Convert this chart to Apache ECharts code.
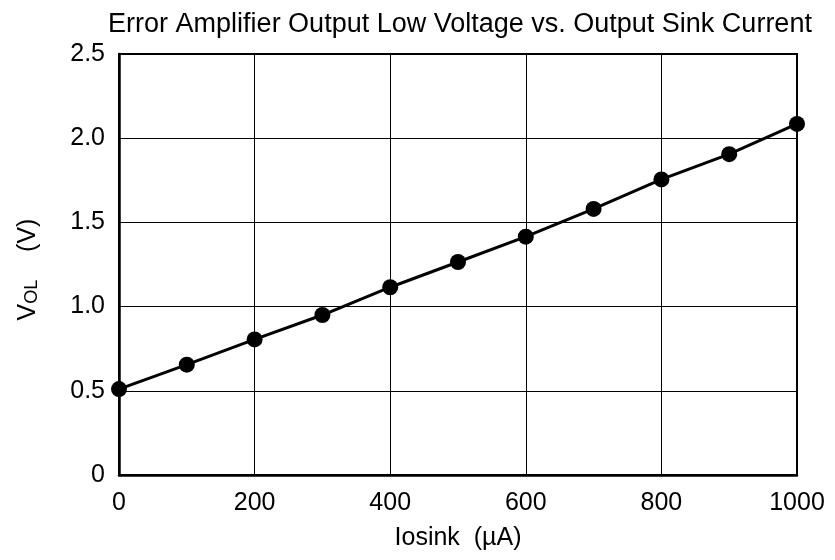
<!DOCTYPE html>
<html>
<head>
<meta charset="utf-8">
<script src="https://cdn.jsdelivr.net/npm/echarts@6/dist/echarts.min.js"></script>
<style>
html,body{margin:0;padding:0;background:#fff;}
#chart{width:835px;height:560px;}
</style>
</head>
<body>
<div id="chart"></div>
<script>
const titleText = 'Error Amplifier Output Low Voltage vs. Output Sink Current';
const sinkCurrent = [0, 100, 200, 300, 400, 500, 600, 700, 800, 900, 1000];
const vol = [0.51, 0.655, 0.805, 0.95, 1.115, 1.265, 1.415, 1.58, 1.755, 1.905, 2.085];
const xTicks = [0, 200, 400, 600, 800, 1000];
const yTicks = ['0', '0.5', '1.0', '1.5', '2.0', '2.5'];

const FONT = '"Liberation Sans", Arial, Helvetica, sans-serif';
const chart = echarts.init(document.getElementById('chart'), null, {renderer: 'canvas'});
const points = sinkCurrent.map((x, i) => [x, vol[i]]);

chart.setOption({
  backgroundColor: '#fff',
  animation: false,
  title: {
    text: titleText,
    left: 455, top: 6, textAlign: 'center',
    textStyle: {fontFamily: FONT, fontSize: 27, fontWeight: 'normal', color: '#000'}
  },
  grid: {left: 119, right: 38, top: 54, bottom: 85, show: true, borderColor: '#000', borderWidth: 2},
  xAxis: {
    type: 'value', min: 0, max: 1000, interval: 200,
    name: 'Iosink  (µA)', nameLocation: 'middle', nameGap: 51,
    nameTextStyle: {fontFamily: FONT, fontSize: 25, color: '#000'},
    axisLine: {show: true, lineStyle: {color: '#000', width: 2.5}},
    axisTick: {show: false},
    axisLabel: {fontFamily: FONT, fontSize: 25, color: '#000', margin: 16,
      formatter: v => String(xTicks[xTicks.indexOf(v)] ?? v)},
    splitLine: {show: true, lineStyle: {color: '#000', width: 1}}
  },
  yAxis: {
    type: 'value', min: 0, max: 2.5, interval: 0.5,
    name: '{v|V}{s|OL}{v|    (V)}{e| }', nameLocation: 'middle', nameGap: 78, nameRotate: 90,
    nameTextStyle: {fontFamily: FONT, fontSize: 25, color: '#000',
      rich: {
        v: {fontFamily: FONT, fontSize: 25, color: '#000'},
        s: {fontFamily: FONT, fontSize: 18, color: '#000', verticalAlign: 'bottom', padding: [8, 0, 0, 0]},
        e: {fontFamily: FONT, fontSize: 25, color: '#000', width: 10}
      }},
    axisLine: {show: true, lineStyle: {color: '#000', width: 2.5}},
    axisTick: {show: false},
    axisLabel: {fontFamily: FONT, fontSize: 25, color: '#000', margin: 14,
      formatter: v => yTicks[Math.round(v / 0.5)]},
    splitLine: {show: true, lineStyle: {color: '#000', width: 1}}
  },
  series: [{
    type: 'line',
    data: points,
    symbol: 'circle', symbolSize: 16,
    itemStyle: {color: '#000'},
    lineStyle: {color: '#000', width: 3},
    clip: false,
    z: 5
  }]
});
</script>
</body>
</html>
